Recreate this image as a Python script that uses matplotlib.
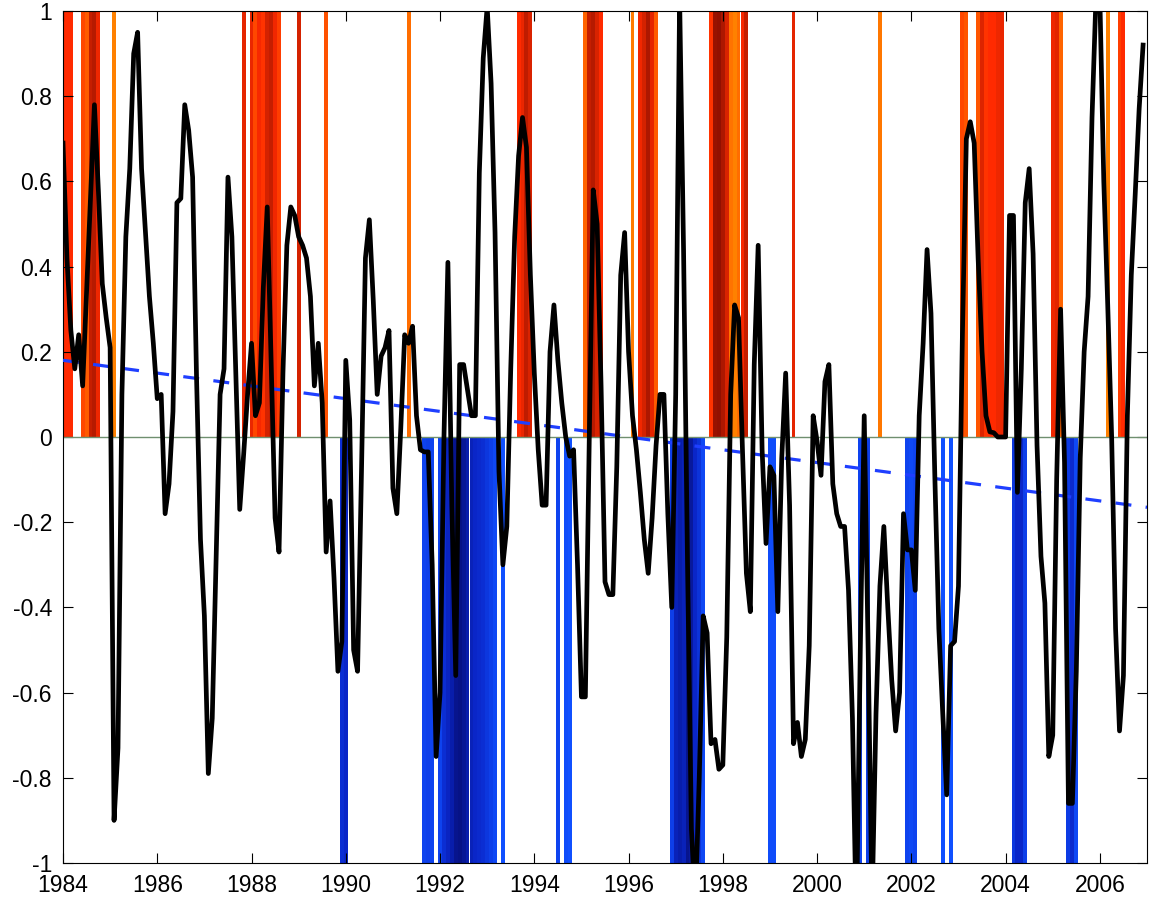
import numpy as np
import matplotlib.pyplot as plt
from matplotlib.colors import LinearSegmentedColormap

plt.rcParams['font.family'] = ['Liberation Sans', 'DejaVu Sans']
plt.rcParams['axes.unicode_minus'] = False

# monthly index, one list per year (Jan..Dec)
v1984 = [0.69, 0.42, 0.25, 0.16, 0.24, 0.12, 0.34, 0.56, 0.78, 0.58, 0.36, 0.28]
v1985 = [0.21, -0.90, -0.73, 0.10, 0.47, 0.63, 0.90, 0.95, 0.63, 0.48, 0.33, 0.22]
v1986 = [0.09, 0.10, -0.18, -0.11, 0.06, 0.55, 0.56, 0.78, 0.72, 0.61, 0.14, -0.24]
v1987 = [-0.42, -0.79, -0.66, -0.28, 0.10, 0.16, 0.61, 0.47, 0.15, -0.17, -0.04, 0.10]
v1988 = [0.22, 0.05, 0.08, 0.35, 0.54, 0.17, -0.19, -0.27, 0.15, 0.45, 0.54, 0.52]
v1989 = [0.47, 0.45, 0.42, 0.33, 0.12, 0.22, 0.08, -0.27, -0.15, -0.33, -0.55, -0.48]
v1990 = [0.18, 0.04, -0.50, -0.55, -0.08, 0.42, 0.51, 0.32, 0.10, 0.19, 0.21, 0.25]
v1991 = [-0.12, -0.18, 0.02, 0.24, 0.22, 0.26, 0.05, -0.03, -0.035, -0.035, -0.30, -0.75]
v1992 = [-0.60, 0.00, 0.41, -0.16, -0.56, 0.17, 0.17, 0.11, 0.05, 0.05, 0.62, 0.89]
v1993 = [1.01, 0.83, 0.48, -0.08, -0.30, -0.21, 0.16, 0.47, 0.66, 0.75, 0.68, 0.38]
v1994 = [0.15, -0.03, -0.16, -0.16, 0.20, 0.31, 0.18, 0.08, 0.00, -0.045, -0.03, -0.30]
v1995 = [-0.61, -0.61, 0.00, 0.58, 0.50, 0.12, -0.34, -0.37, -0.37, -0.07, 0.38, 0.48]
v1996 = [0.20, 0.05, -0.03, -0.13, -0.24, -0.32, -0.19, -0.02, 0.10, 0.10, -0.18, -0.40]
v1997 = [0.10, 1.03, 0.44, -0.29, -0.92, -1.10, -0.80, -0.42, -0.46, -0.72, -0.71, -0.78]
v1998 = [-0.77, -0.47, 0.10, 0.31, 0.28, -0.03, -0.32, -0.41, 0.17, 0.45, -0.03, -0.25]
v1999 = [-0.07, -0.09, -0.41, -0.05, 0.15, -0.16, -0.72, -0.67, -0.75, -0.71, -0.49, 0.05]
v2000 = [-0.01, -0.09, 0.13, 0.17, -0.11, -0.18, -0.21, -0.21, -0.36, -0.66, -1.15, -0.50]
v2001 = [0.05, -0.50, -1.10, -0.65, -0.35, -0.21, -0.40, -0.57, -0.69, -0.60, -0.18, -0.265]
v2002 = [-0.265, -0.36, 0.05, 0.22, 0.44, 0.29, -0.10, -0.45, -0.65, -0.84, -0.49, -0.48]
v2003 = [-0.35, 0.24, 0.70, 0.74, 0.69, 0.42, 0.20, 0.05, 0.012, 0.01, 0.0, 0.0]
v2004 = [0.0, 0.52, 0.52, -0.13, 0.16, 0.55, 0.63, 0.43, -0.02, -0.28, -0.39, -0.75]
v2005 = [-0.70, -0.10, 0.30, -0.06, -0.86, -0.86, -0.55, -0.05, 0.20, 0.33, 0.75, 1.03]
v2006 = [1.03, 0.60, 0.31, 0.00, -0.45, -0.69, -0.56, 0.05, 0.38, 0.57, 0.77, 0.92]

series = (v1984 + v1985 + v1986 + v1987 + v1988 + v1989 + v1990 + v1991
          + v1992 + v1993 + v1994 + v1995 + v1996 + v1997 + v1998 + v1999
          + v2000 + v2001 + v2002 + v2003 + v2004 + v2005 + v2006)

# warm months (month number counted from Jan 1984) and their shade 0=dark red .. 1=orange
warm_months = [0, 1, 2, 5, 6, 7, 8, 9, 13, 46, 48, 49, 50, 51, 52, 53, 54, 55,
               60, 67, 88, 116, 117, 118, 119, 133, 134, 135, 136, 137, 145,
               147, 148, 149, 150, 151, 165, 166, 167, 168, 169, 170, 171, 172,
               173, 174, 186, 208, 229, 230, 233, 234, 235, 236, 237, 238, 239,
               252, 253, 254, 266, 269, 270]
warm_level = [0.5, 0.5, 0.5, 0.65, 0.75, 0.2, 0.15, 0.4, 0.95, 0.35, 0.38, 0.65,
              0.45, 0.55, 0.25, 0.2, 0.42, 0.6, 0.25, 0.7, 0.85, 0.5, 0.38, 0.18,
              0.28, 0.8, 0.2, 0.15, 0.28, 0.5, 0.92, 0.42, 0.25, 0.12, 0.35, 0.75,
              0.55, 0.05, 0.03, 0.12, 0.28, 0.88, 0.95, 0.85, 0.45, 0.2, 0.35, 0.9,
              0.65, 0.72, 0.72, 0.3, 0.55, 0.5, 0.5, 0.4, 0.38, 0.4, 0.33, 0.8,
              0.95, 0.6, 0.5]

# cold months and their shade 0=navy .. 1=bright blue
cold_months = [71, 72, 92, 93, 94, 96, 97, 98, 99, 100, 101, 102, 103, 104, 105,
               106, 107, 108, 109, 110, 112, 126, 128, 129, 155, 156, 157, 158,
               159, 160, 161, 162, 163, 180, 181, 203, 205, 215, 216, 217, 224,
               226, 242, 243, 244, 245, 256, 257, 258]
cold_level = [0.6, 0.5, 0.85, 0.8, 0.85, 0.85, 0.6, 0.45, 0.3, 0.1, 0.05, 0.15,
              0.3, 0.4, 0.5, 0.55, 0.6, 0.7, 0.8, 0.9, 1.0, 0.85, 0.95, 1.0, 0.8,
              0.4, 0.3, 0.4, 0.1, 0.2, 0.5, 0.65, 0.9, 0.95, 0.95, 0.85, 0.8, 0.85,
              0.9, 0.85, 1.0, 1.0, 0.7, 0.5, 0.5, 0.8, 0.75, 0.55, 0.9]

# linear trend end points
trend_years = [1984, 2007]
trend_vals = [0.18, -0.165]

start_year = 1984
t = start_year + np.arange(len(series)) / 12.0

warm_cmap = LinearSegmentedColormap.from_list(
    'warm', ['#8a0e00', '#d42200', '#ff2a00', '#ff5a00', '#ff8a00'])
cold_cmap = LinearSegmentedColormap.from_list(
    'cold', ['#06107f', '#0a26c8', '#1050ff'])

fig = plt.figure(figsize=(11.49, 9.01), dpi=100)
ax = fig.add_axes([63 / 1149, 38 / 901, 1084 / 1149, 852 / 901])

tw = start_year + np.array(warm_months) / 12.0
tc = start_year + np.array(cold_months) / 12.0
ax.bar(tw, 1.0, width=1 / 12, bottom=0, color=warm_cmap(np.array(warm_level)),
       linewidth=0, zorder=1)
ax.bar(tc, -1.0, width=1 / 12, bottom=0, color=cold_cmap(np.array(cold_level)),
       linewidth=0, zorder=1)

ax.axhline(0, color='#6f8f6f', lw=1, zorder=2)
ax.plot(t, series, color='black', lw=3.4, zorder=4)
ax.plot(trend_years, trend_vals, color='#1f3fff', lw=2.3, dashes=(5, 4.5), zorder=3)

ax.set_xlim(1984, 2007)
ax.set_ylim(-1, 1)
ax.set_xticks(range(1984, 2007, 2))
yt = np.round(np.arange(-1, 1.01, 0.2), 1) + 0.0
ax.set_yticks(yt)
ax.set_yticklabels(['%g' % (v if abs(v) > 1e-9 else 0) for v in yt])
ax.tick_params(direction='in', top=True, right=True, length=7, width=0.8,
               labelsize=16.5, pad=8)
for s in ax.spines.values():
    s.set_linewidth(0.8)

fig.savefig('out.png', dpi=100)
